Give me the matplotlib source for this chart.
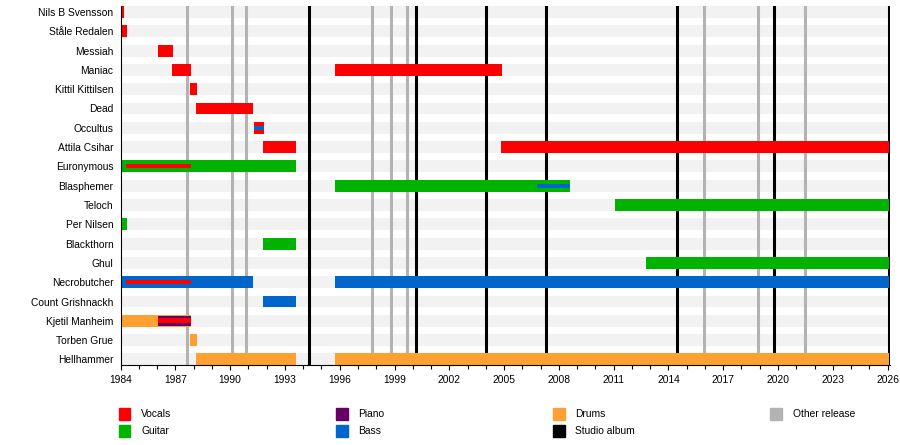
import numpy as np
import matplotlib.pyplot as plt
from matplotlib.patches import Rectangle

plt.rcParams['font.family'] = ['Liberation Sans', 'DejaVu Sans']

# Band members, top to bottom
members = ["Nils B Svensson", "Ståle Redalen", "Messiah", "Maniac", "Kittil Kittilsen",
           "Dead", "Occultus", "Attila Csihar", "Euronymous", "Blasphemer", "Teloch",
           "Per Nilsen", "Blackthorn", "Ghul", "Necrobutcher", "Count Grishnackh",
           "Kjetil Manheim", "Torben Grue", "Hellhammer"]

END = 2026.1

# Main bars (primary role)
main_member = ["Nils B Svensson", "Ståle Redalen", "Messiah", "Maniac", "Maniac",
               "Kittil Kittilsen", "Dead", "Occultus", "Attila Csihar", "Attila Csihar",
               "Euronymous", "Blasphemer", "Teloch", "Per Nilsen", "Blackthorn", "Ghul",
               "Necrobutcher", "Necrobutcher", "Count Grishnackh", "Kjetil Manheim",
               "Torben Grue", "Hellhammer", "Hellhammer"]
main_start = [1984.0, 1984.1, 1986.05, 1986.8, 1995.74,
              1987.8, 1988.13, 1991.3, 1991.8, 2004.83,
              1984.0, 1995.74, 2011.08, 1984.0, 1991.8, 2012.77,
              1984.0, 1995.74, 1991.8, 1984.0,
              1987.8, 1988.13, 1995.74]
main_end = [1984.2, 1984.35, 1986.87, 1987.85, 2004.9,
            1988.2, 1991.25, 1991.85, 1993.6, END,
            1993.6, 2008.6, END, 1984.35, 1993.6, END,
            1991.25, END, 1993.6, 1987.85,
            1988.2, 1993.6, END]
main_role = ["Vocals", "Vocals", "Vocals", "Vocals", "Vocals",
             "Vocals", "Vocals", "Vocals", "Vocals", "Vocals",
             "Guitar", "Guitar", "Guitar", "Guitar", "Guitar", "Guitar",
             "Bass", "Bass", "Bass", "Drums",
             "Drums", "Drums", "Drums"]

# Secondary roles drawn as thinner bars on top
sub_member = ["Occultus", "Euronymous", "Blasphemer", "Necrobutcher",
              "Kjetil Manheim", "Kjetil Manheim"]
sub_start = [1991.3, 1984.3, 2006.8, 1984.3, 1986.05, 1986.05]
sub_end = [1991.85, 1987.85, 2008.6, 1987.85, 1987.85, 1987.85]
sub_role = ["Bass", "Vocals", "Bass", "Vocals", "Piano", "Vocals"]
sub_size = [0.2, 0.2, 0.2, 0.2, 0.5, 0.26]

studio_albums = [1994.34, 2000.18, 2004.0, 2007.28, 2014.45, 2019.8, 2026.1]
other_releases = [1987.62, 1990.12, 1990.88, 1997.78, 1998.82, 1999.7,
                  2015.97, 2018.92, 2021.5]

role_colors = {"Vocals": "#ff0000", "Guitar": "#00b300", "Piano": "#660066",
               "Bass": "#0066cc", "Drums": "#ffa033",
               "Studio album": "#000000", "Other release": "#b3b3b3"}
legend_cols = [["Vocals", "Guitar"], ["Piano", "Bass"],
               ["Drums", "Studio album"], ["Other release"]]

W, H = 900, 445
fig = plt.figure(figsize=(W / 100, H / 100), dpi=100)
x0, x1 = 120.6, 890.3
y_top, y_bot = 6.0, 365.4
ax = fig.add_axes([x0 / W, 1 - y_bot / H, (x1 - x0) / W, (y_bot - y_top) / H])

bar_h = 0.62
row = {m: i for i, m in enumerate(members)}

# background stripes
ax.barh(np.arange(len(members)), END + 1 - 1984, left=1984, height=bar_h,
        color="#f2f2f2", zorder=0)

for yr in other_releases:
    ax.axvline(yr, color=role_colors["Other release"], lw=2.2, zorder=1)
for yr in studio_albums:
    ax.axvline(yr, color="black", lw=2.2, zorder=1)

for m, s, e, r in zip(main_member, main_start, main_end, main_role):
    ax.barh(row[m], e - s, left=s, height=bar_h, color=role_colors[r], zorder=2)
for m, s, e, r, h in zip(sub_member, sub_start, sub_end, sub_role, sub_size):
    ax.barh(row[m], e - s, left=s, height=h, color=role_colors[r], zorder=3)

ax.set_xlim(1984, 2026.15)
ax.set_ylim(len(members) - 1 + bar_h / 2, -bar_h / 2)
ax.set_yticks(range(len(members)))
ax.set_yticklabels(members)
ax.set_xticks(np.arange(1984, 2027, 3))
ax.set_xticks(np.arange(1984, 2027, 1), minor=True)
ax.tick_params(axis="y", length=0, pad=5.2, labelsize=7.4)
ax.tick_params(axis="x", which="major", length=3.5, width=0.8, pad=3.5, labelsize=7.4)
ax.tick_params(axis="x", which="minor", length=3, width=0.8)
for sp in ["top", "right"]:
    ax.spines[sp].set_visible(False)
for sp in ["left", "bottom"]:
    ax.spines[sp].set_linewidth(0.8)
ax.set_facecolor("white")

# legend
for c, names in enumerate(legend_cols):
    lx = 118.6 + 217.2 * c
    for k, name in enumerate(names):
        ly = 407.5 + 17 * k
        fig.add_artist(Rectangle((lx / W, 1 - (ly + 12.8) / H), 11.8 / W, 12.8 / H,
                                 transform=fig.transFigure, color=role_colors[name]))
        fig.text((lx + 22.4) / W, 1 - (ly + 6.6) / H, name, fontsize=7.4,
                 va="center", ha="left")

fig.savefig("out.png", dpi=100)
